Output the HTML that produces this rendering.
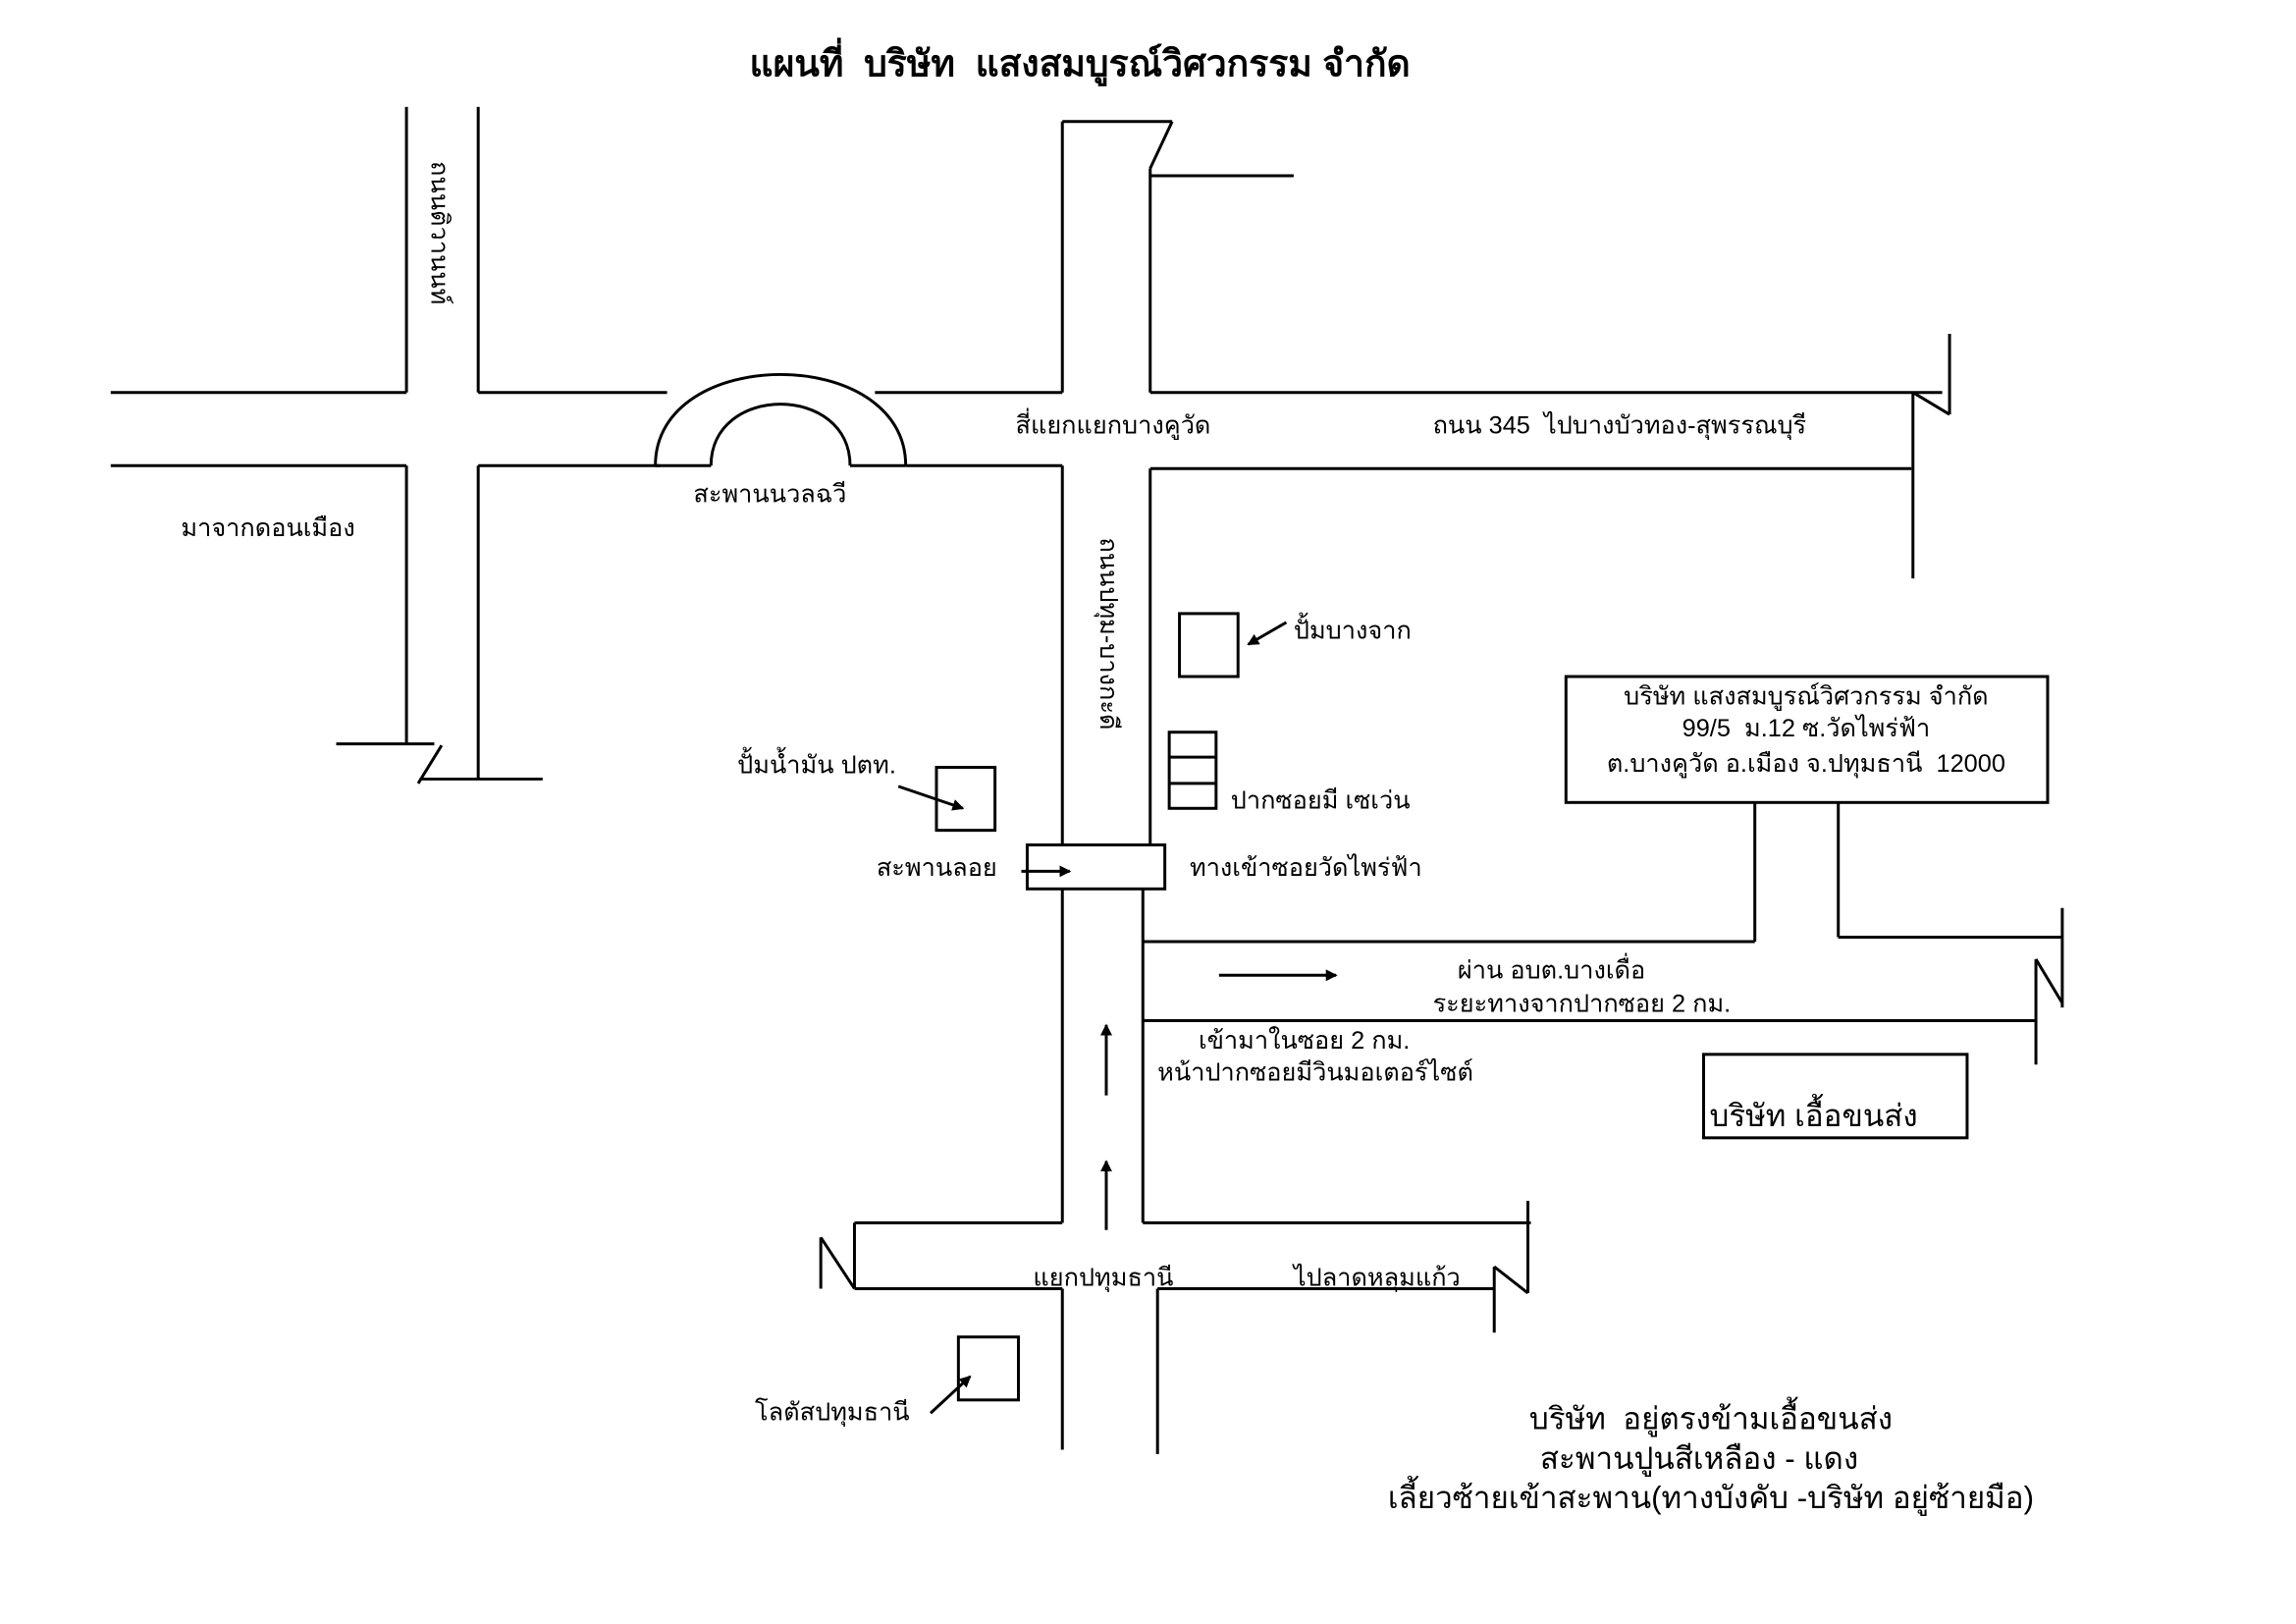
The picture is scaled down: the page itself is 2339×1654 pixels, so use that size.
<!DOCTYPE html>
<html><head><meta charset="utf-8"><style>
html,body{margin:0;padding:0;background:#fff;}
svg{display:block;}
text{font-family:"Liberation Sans","Noto Sans CJK SC",sans-serif;font-size:17px;fill:#000;white-space:pre;}
</style></head><body>
<svg width="2339" height="1654" viewBox="0 0 1567 1109" xmlns="http://www.w3.org/2000/svg" xml:space="preserve">
<defs><marker id="a" markerWidth="8" markerHeight="8" refX="7" refY="4" orient="auto" markerUnits="userSpaceOnUse"><path d="M0,0 L8,4 L0,8 Z" fill="#000"/></marker></defs>
<g stroke="#000" stroke-width="2" fill="none">
<line x1="277" y1="73" x2="277" y2="268"/><line x1="326" y1="73" x2="326" y2="268"/>
<line x1="75" y1="268" x2="277" y2="268"/><line x1="75" y1="318" x2="277" y2="318"/>
<line x1="277" y1="318" x2="277" y2="508"/><line x1="326" y1="318" x2="326" y2="531"/>
<line x1="229" y1="508" x2="296" y2="508"/><line x1="285" y1="535" x2="301" y2="509"/><line x1="286" y1="532" x2="370" y2="532"/>
<line x1="326" y1="268" x2="455" y2="268"/><line x1="597" y1="268" x2="725" y2="268"/><line x1="785" y1="268" x2="1326" y2="268"/>
<line x1="326" y1="318" x2="450" y2="318"/><line x1="618" y1="318" x2="725" y2="318"/>
<line x1="785" y1="320" x2="1305" y2="320"/>
<path d="M447,318 C447,235 618,235 618,318"/>
<path d="M485,318 C485,262 580,262 580,318"/>
<line x1="447" y1="318" x2="485" y2="318"/><line x1="580" y1="318" x2="618" y2="318"/>
<line x1="1306" y1="268" x2="1306" y2="395"/>
<line x1="1331" y1="228" x2="1331" y2="283"/><path d="M1306,268 L1331,283"/>
<line x1="725" y1="83" x2="725" y2="268"/><line x1="725" y1="83" x2="800" y2="83"/>
<line x1="800" y1="83" x2="785" y2="115"/><line x1="785" y1="115" x2="785" y2="268"/>
<line x1="785" y1="120" x2="883" y2="120"/>
<line x1="725" y1="318" x2="725" y2="577"/><line x1="785" y1="320" x2="785" y2="577"/>
<rect x="701" y="577" width="94" height="30"/>
<line x1="725" y1="607" x2="725" y2="835"/><line x1="780" y1="607" x2="780" y2="835"/>
<line x1="780" y1="643" x2="1198" y2="643"/>
<line x1="1198" y1="548" x2="1198" y2="643"/><line x1="1255" y1="548" x2="1255" y2="640"/>
<line x1="1255" y1="640" x2="1408" y2="640"/>
<line x1="1408" y1="620" x2="1408" y2="688"/><line x1="1390" y1="655" x2="1408" y2="685"/>
<line x1="1390" y1="655" x2="1390" y2="727"/>
<line x1="780" y1="697" x2="1390" y2="697"/>
<rect x="1069" y="462" width="329" height="86"/>
<rect x="1163" y="720" width="180" height="57"/>
<rect x="805" y="419" width="40" height="43"/>
<rect x="798" y="500" width="32" height="52"/><line x1="798" y1="517" x2="830" y2="517"/><line x1="798" y1="535" x2="830" y2="535"/>
<rect x="639" y="524" width="40" height="43"/>
<rect x="654" y="913" width="41" height="43"/>
<line x1="583" y1="835" x2="725" y2="835"/><line x1="583" y1="835" x2="583" y2="880"/>
<path d="M560,845 L583,880"/><line x1="560" y1="845" x2="560" y2="880"/>
<line x1="583" y1="880" x2="725" y2="880"/><line x1="725" y1="880" x2="725" y2="990"/>
<line x1="780" y1="835" x2="1045" y2="835"/>
<line x1="1043" y1="820" x2="1043" y2="883"/><path d="M1020,865 L1043,883"/>
<line x1="1020" y1="865" x2="1020" y2="910"/>
<line x1="790" y1="880" x2="1020" y2="880"/><line x1="790" y1="880" x2="790" y2="993"/>
<line x1="832" y1="666" x2="912" y2="666" marker-end="url(#a)"/>
<line x1="755" y1="748" x2="755" y2="700" marker-end="url(#a)"/>
<line x1="755" y1="840" x2="755" y2="793" marker-end="url(#a)"/>
<line x1="878" y1="425" x2="852" y2="440" marker-end="url(#a)"/>
<line x1="613" y1="537" x2="657" y2="552" marker-end="url(#a)"/>
<line x1="697" y1="595" x2="730" y2="595" marker-end="url(#a)"/>
<line x1="635" y1="965" x2="662" y2="940" marker-end="url(#a)"/>
</g>
<text x="737" y="52" text-anchor="middle" style="font-size:25px;font-weight:bold">แผนที่  บริษัท  แสงสมบูรณ์วิศวกรรม จำกัด</text>
<text transform="translate(294,110) rotate(90)">ถนนติวานนท์</text>
<text transform="translate(751,367) rotate(90)">ถนนปทุม-บางกะดี</text>
<text x="693" y="296">สี่แยกแยกบางคูวัด</text>
<text x="978" y="296">ถนน 345  ไปบางบัวทอง-สุพรรณบุรี</text>
<text x="473" y="343">สะพานนวลฉวี</text>
<text x="123" y="366">มาจากดอนเมือง</text>
<text x="883" y="436">ปั้มบางจาก</text>
<text x="503" y="528">ปั้มน้ำมัน ปตท.</text>
<text x="840" y="552">ปากซอยมี เซเว่น</text>
<text x="598" y="598">สะพานลอย</text>
<text x="812" y="598">ทางเข้าซอยวัดไพร่ฟ้า</text>
<text x="1233" y="481" text-anchor="middle">บริษัท แสงสมบูรณ์วิศวกรรม จำกัด</text>
<text x="1233" y="503" text-anchor="middle">99/5  ม.12 ซ.วัดไพร่ฟ้า</text>
<text x="1233" y="527" text-anchor="middle">ต.บางคูวัด อ.เมือง จ.ปทุมธานี  12000</text>
<text x="995" y="668">ผ่าน อบต.บางเดื่อ</text>
<text x="978" y="691">ระยะทางจากปากซอย 2 กม.</text>
<text x="818" y="716">เข้ามาในซอย 2 กม.</text>
<text x="790" y="738">หน้าปากซอยมีวินมอเตอร์ไซต์</text>
<text x="1167" y="769" style="font-size:21px">บริษัท เอื้อขนส่ง</text>
<text x="705" y="878">แยกปทุมธานี</text>
<text x="883" y="878">ไปลาดหลุมแก้ว</text>
<text x="515" y="970">โลตัสปทุมธานี</text>
<text x="1168" y="976" text-anchor="middle" style="font-size:21px">บริษัท  อยู่ตรงข้ามเอื้อขนส่ง</text>
<text x="1160" y="1003" text-anchor="middle" style="font-size:21px">สะพานปูนสีเหลือง - แดง</text>
<text x="1168" y="1030" text-anchor="middle" style="font-size:21px">เลี้ยวซ้ายเข้าสะพาน(ทางบังคับ -บริษัท อยู่ซ้ายมือ)</text>
</svg>
</body></html>
